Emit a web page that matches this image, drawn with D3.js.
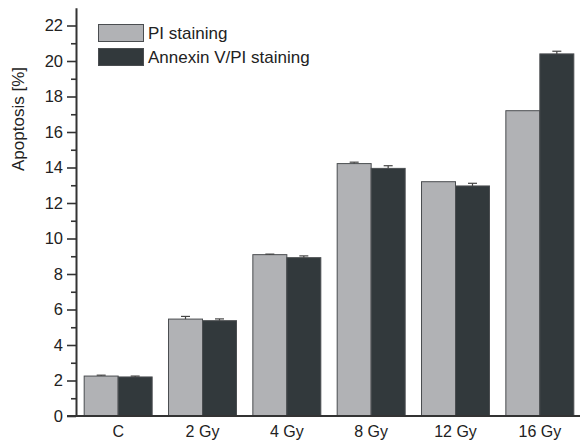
<!DOCTYPE html>
<html><head><meta charset="utf-8">
<script src="https://cdn.jsdelivr.net/npm/d3@7"></script>
<style>body{margin:0;background:#fff}svg{display:block}text{font-family:"Liberation Sans",Arial,sans-serif;fill:#222}</style>
</head><body>
<svg id="c" width="580" height="441"></svg>
<script>
const categories = ["C","2 Gy","4 Gy","8 Gy","12 Gy","16 Gy"];
const seriesNames = ["PI staining","Annexin V/PI staining"];
const piValues = [2.25,5.46,9.09,14.22,13.2,17.2];
const piErrors = [0.05,0.15,0.03,0.08,0,0];
const annexinValues = [2.2,5.37,8.92,13.95,12.96,20.4];
const annexinErrors = [0.05,0.1,0.1,0.15,0.15,0.15];
const majorTicks = [0,2,4,6,8,10,12,14,16,18,20,22];
const minorTicks = [1,3,5,7,9,11,13,15,17,19,21];
const colors = ["#b1b2b5","#32393c"];

const svg = d3.select("#c");
const y = d3.scaleLinear().domain([0,23]).range([416,7.75]);
const x = d3.scaleBand().domain(categories).range([76,582]).paddingInner(0.194).paddingOuter(0.097);
const xs = d3.scaleBand().domain([0,1]).range([0,x.bandwidth()]);

const series = [
  {vals:piValues, errs:piErrors},
  {vals:annexinValues, errs:annexinErrors}
];

series.forEach((s,si)=>{
  const g = svg.append("g");
  g.selectAll("rect").data(categories).join("rect")
    .attr("x",(d)=>x(d)+xs(si))
    .attr("width",xs.bandwidth())
    .attr("y",(d,i)=>y(s.vals[i]))
    .attr("height",(d,i)=>y(0)-y(s.vals[i]))
    .attr("fill",colors[si]).attr("stroke","#4a4d50").attr("stroke-width",1);
  categories.forEach((d,i)=>{
    if(!s.errs[i]) return;
    const cx = x(d)+xs(si)+xs.bandwidth()/2;
    g.append("line").attr("x1",cx).attr("x2",cx).attr("y1",y(s.vals[i])).attr("y2",y(s.vals[i]+s.errs[i])).attr("stroke","#444").attr("stroke-width",1.2);
    g.append("line").attr("x1",cx-4.5).attr("x2",cx+4.5).attr("y1",y(s.vals[i]+s.errs[i])).attr("y2",y(s.vals[i]+s.errs[i])).attr("stroke","#444").attr("stroke-width",1.2);
  });
});

const yAxis = svg.append("g").attr("transform","translate(76,0)")
  .call(d3.axisLeft(y).tickValues(majorTicks).tickSize(9).tickSizeOuter(0).tickPadding(4));
yAxis.select(".domain").attr("stroke","#333").attr("stroke-width",2);
yAxis.selectAll(".tick line").attr("stroke","#333").attr("stroke-width",1.6);
yAxis.selectAll("text").style("font-size","16.5px").attr("fill","#222");
const yMinor = svg.append("g").attr("transform","translate(76,0)")
  .call(d3.axisLeft(y).tickValues(minorTicks).tickSize(5).tickSizeOuter(0).tickFormat(""));
yMinor.select(".domain").remove();
yMinor.selectAll(".tick line").attr("stroke","#333").attr("stroke-width",1.6);

const xAxis = svg.append("g").attr("transform","translate(0,416)")
  .call(d3.axisBottom(x).tickSize(0).tickSizeOuter(0).tickPadding(10));
xAxis.select(".domain").remove();
svg.append("line").attr("x1",67).attr("x2",582).attr("y1",416).attr("y2",416).attr("stroke","#333").attr("stroke-width",2);
xAxis.selectAll("text").style("font-size","16px").attr("fill","#222");

svg.append("text").attr("transform","translate(24,119) rotate(-90)")
  .attr("text-anchor","middle").style("font-size","17px").text("Apoptosis [%]");

const lg = svg.append("g");
seriesNames.forEach((n,i)=>{
  const yy = 24.5 + i*24;
  lg.append("rect").attr("x",98.5).attr("y",yy).attr("width",45).attr("height",17)
    .attr("fill",colors[i]).attr("stroke","#4a4d50").attr("stroke-width",1);
  lg.append("text").attr("x",148).attr("y",yy+14.5).style("font-size","17px").text(n);
});
</script>
</body></html>
